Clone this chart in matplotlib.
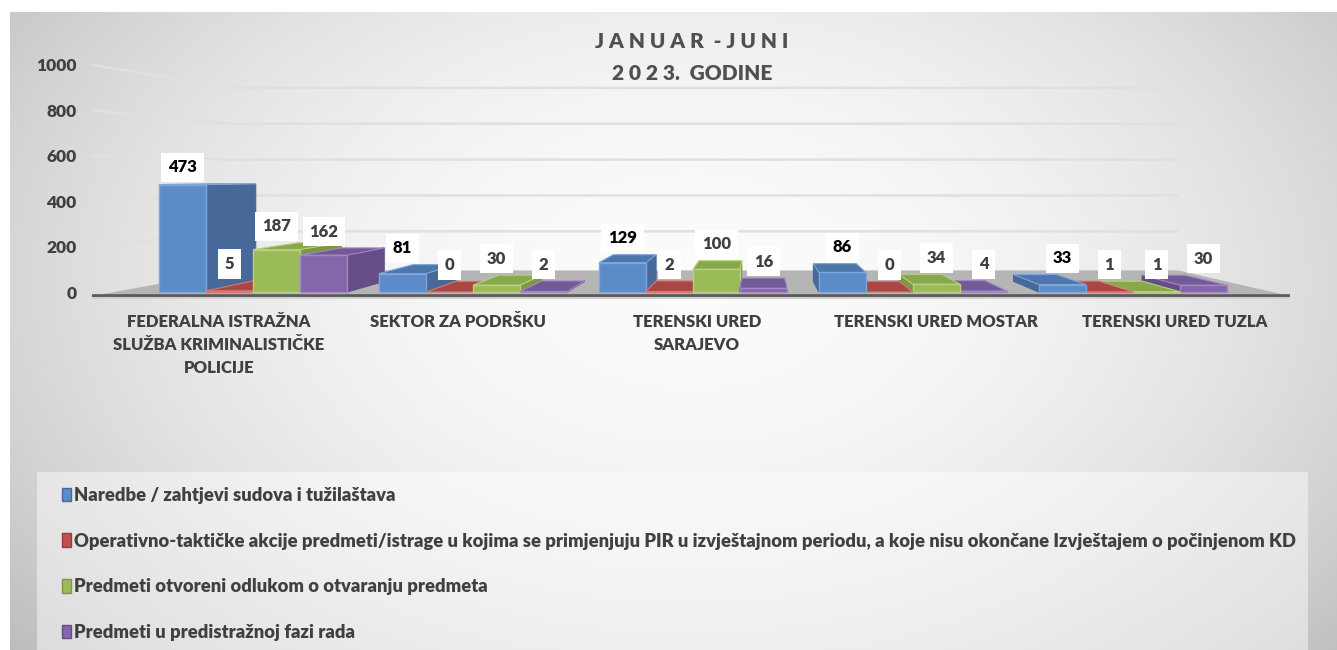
import numpy as np
import matplotlib
matplotlib.use("Agg")
import matplotlib.pyplot as plt
from matplotlib.patches import Polygon, Patch

# ---------------- data ----------------
categories = ["FEDERALNA ISTRAŽNA\nSLUŽBA KRIMINALISTIČKE\nPOLICIJE",
              "SEKTOR ZA PODRŠKU",
              "TERENSKI URED\nSARAJEVO",
              "TERENSKI URED MOSTAR",
              "TERENSKI URED TUZLA"]
series_names = ["Naredbe / zahtjevi sudova i tužilaštava",
                "Operativno-taktičke akcije predmeti/istrage u kojima se primjenjuju PIR u izvještajnom periodu, a koje nisu okončane Izvještajem o počinjenom KD",
                "Predmeti otvoreni odlukom o otvaranju predmeta",
                "Predmeti u predistražnoj fazi rada"]
naredbe = [473, 81, 129, 86, 33]
operativno = [5, 0, 2, 0, 1]
otvoreni = [187, 30, 100, 34, 1]
predistrazni = [162, 2, 16, 4, 30]
yticks = [0, 200, 400, 600, 800, 1000]
title_lines = ["J A N U A R  - J U N I", "2 0 2 3.  GODINE"]

series = [naredbe, operativno, otvoreni, predistrazni]
front_cols = ["#5b8bc9", "#c0504d", "#9bbb59", "#8566aa"]
side_cols = ["#46699a", "#963d3b", "#7b9844", "#654d86"]
top_cols = ["#4d76aa", "#a84744", "#89a84c", "#725a96"]
edge_cols = ["#7ea6da", "#d87774", "#b6d27c", "#a486c6"]
label_cols = ["#000000", "#404040", "#404040", "#404040"]

plt.rcParams["font.family"] = ["Lato", "DejaVu Sans"]
TXT = "#404040"
HEAVY = "heavy"

W, H = 1337, 650
fig = plt.figure(figsize=(W / 100, H / 100), dpi=100)
fig.patch.set_facecolor("white")

# ---------------- background gradient ----------------
bx0, by0 = 10, 12
bg = fig.add_axes([bx0 / W, 0, 1 - bx0 / W, 1 - by0 / H], zorder=-10)
X, Y = np.meshgrid(np.arange(bx0, W), np.arange(by0, H))
d2 = ((X - 690) / 800.0) ** 2 + ((Y - 280) / 520.0) ** 2
val = np.clip(0.985 - 0.2 * d2, 0, 1)
bg.imshow(np.dstack([val] * 3), aspect="auto", extent=[0, 1, 0, 1], origin="upper")
bg.axis("off")

# legend panel
lx0, ly0, lx1 = 37, 472, 1308
lp = fig.add_axes([lx0 / W, 0, (lx1 - lx0) / W, 1 - ly0 / H], zorder=-9)
X2, Y2 = np.meshgrid(np.arange(lx0, lx1), np.arange(ly0, H))
d22 = ((X2 - 690) / 800.0) ** 2 + ((Y2 - 280) / 520.0) ** 2
v2 = np.clip(0.985 - 0.2 * d22, 0, 1)
v2 = 1 - 0.55 * (1 - v2)
lp.imshow(np.dstack([v2] * 3), aspect="auto", extent=[0, 1, 0, 1], origin="upper")
lp.axis("off")

# ---------------- main axes ----------------
ax_left, ax_right = 92, 1290
ax_top, ax_bot = 20, 340
ax = fig.add_axes([ax_left / W, 1 - ax_bot / H, (ax_right - ax_left) / W, (ax_bot - ax_top) / H])
ax.patch.set_visible(False)
xl, xr = -0.732, 4.714
ax.set_xlim(xl, xr)
ax.set_ylim(-211.4, 1198)
for s in ax.spines.values():
    s.set_visible(False)
ax.set_xticks([])
ax.set_yticks(yticks)
ax.set_yticklabels([str(v) for v in yticks])
ax.tick_params(axis="y", length=0, pad=11, labelsize=12.5, labelcolor=TXT)
for lab in ax.get_yticklabels():
    lab.set_fontweight(HEAVY)

XVP, EYE = 2.3, 520.0
T_WALL, T_BAR = 0.21, 0.09
FLOOR = 18.0


def proj(x, y, t):
    return x + t * (XVP - x), y + t * (EYE - y)


# gridlines (side wall + back wall)
for v in yticks[1:]:
    pxl, pyl = proj(xl, v, T_WALL)
    pxr, pyr = proj(xr, v, T_WALL)
    ax.plot([xl, pxl, pxr], [v, pyl, pyr], color="#e0e0e0", lw=1.8, zorder=1,
            solid_capstyle="butt")

# floor
fl = proj(xl, -FLOOR, T_WALL)
fr = proj(xr, -FLOOR, T_WALL)
ax.add_patch(Polygon([(xl, -FLOOR), (xr, -FLOOR), fr, fl], closed=True,
                     facecolor="#b5b5b5", edgecolor="none", zorder=1.5))
ax.plot([xl, xr], [-FLOOR, -FLOOR], color="#5a5a5a", lw=2.6, zorder=1.6)
ax.plot([xl, xr], [-FLOOR - 7, -FLOOR - 7], color="#d0d0d0", lw=1.5, zorder=1.6)

# bars
n_cat = len(categories)
n_ser = len(series)
bw = 0.214
bars = []
for i in range(n_cat):
    for j in range(n_ser):
        xc = i + (j - (n_ser - 1) / 2) * bw
        bars.append((abs(xc - XVP), xc, j, series[j][i]))
bars.sort(key=lambda b: -b[0])

z = 2.0
for _, xc, j, v in bars:
    x0, x1 = xc - bw / 2, xc + bw / 2
    xs = x1 if xc < XVP else x0
    p1 = proj(xs, 0, T_BAR)
    p2 = proj(xs, v, T_BAR)
    ax.add_patch(Polygon([(xs, 0), (xs, v), p2, p1], closed=True,
                         facecolor=side_cols[j], edgecolor=side_cols[j], lw=0.8, zorder=z))
    if v < EYE:
        t0 = proj(x0, v, T_BAR)
        t1 = proj(x1, v, T_BAR)
        ax.add_patch(Polygon([(x0, v), (x1, v), t1, t0], closed=True,
                             facecolor=top_cols[j], edgecolor=edge_cols[j], lw=0.8, zorder=z + 0.01))
    if v > 0:
        ax.add_patch(Polygon([(x0, 0), (x1, 0), (x1, v), (x0, v)], closed=True,
                             facecolor=front_cols[j], edgecolor=edge_cols[j], lw=1.0, zorder=z + 0.02))
    z += 0.1

# data labels
for i in range(n_cat):
    for j in range(n_ser):
        xc = i + (j - (n_ser - 1) / 2) * bw
        v = series[j][i]
        yl = v * (1 - T_BAR) + T_BAR * EYE + 72
        ax.text(xc, yl, str(v), ha="center", va="center", fontsize=12, fontweight=HEAVY,
                color=label_cols[j], zorder=20,
                bbox=dict(boxstyle="square,pad=0.4", facecolor="white", edgecolor="none"))

# category labels
for i, c in enumerate(categories):
    ax.text(i + 0.086 * (i - 1.8), -96, c, ha="center", va="top", fontsize=12,
            fontweight=HEAVY, color=TXT, linespacing=1.56, multialignment="center", zorder=20)

# title
fig.text(692 / W, 1 - 42 / H, title_lines[0], ha="center", va="center", fontsize=15,
         fontweight=HEAVY, color="#505050")
fig.text(692 / W, 1 - 73 / H, title_lines[1], ha="center", va="center", fontsize=15,
         fontweight=HEAVY, color="#505050")

# legend
handles = [Patch(facecolor=front_cols[j], edgecolor=side_cols[j], lw=1.0) for j in range(n_ser)]
fig.legend(handles, series_names, loc="upper left", bbox_to_anchor=(62 / W, 1 - 487 / H),
           frameon=False, prop={"weight": HEAVY, "size": 13.2}, labelcolor=TXT,
           handlelength=0.5, handleheight=0.75, handletextpad=0.15, labelspacing=1.56,
           borderpad=0, borderaxespad=0)

fig.savefig("out.png", dpi=100)
